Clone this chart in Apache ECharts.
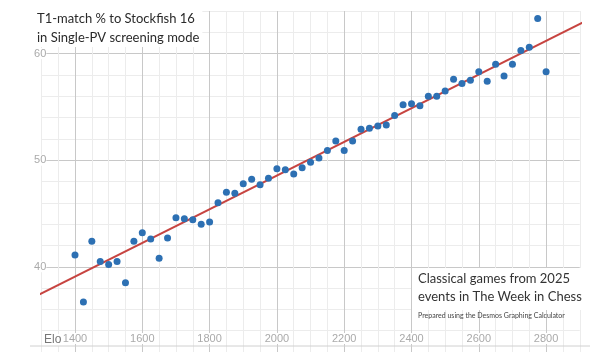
<!DOCTYPE html>
<html>
<head>
<meta charset="utf-8">
<script src="https://cdn.jsdelivr.net/npm/echarts@6/dist/echarts.min.js"></script>
<style>
    html, body { margin: 0; padding: 0; background: #fff; }
    #chart { width: 607px; height: 352px; }
</style>
</head>
<body>
<div id="chart"></div>
<script>
    // Elo bins (25 Elo wide) and T1-match percentage per bin
    const eloBins = [
        1400, 1425, 1450, 1475, 1500, 1525, 1550, 1575, 1600, 1625,
        1650, 1675, 1700, 1725, 1750, 1775, 1800, 1825, 1850, 1875,
        1900, 1925, 1950, 1975, 2000, 2025, 2050, 2075, 2100, 2125,
        2150, 2175, 2200, 2225, 2250, 2275, 2300, 2325, 2350, 2375,
        2400, 2425, 2450, 2475, 2500, 2525, 2550, 2575, 2600, 2625,
        2650, 2675, 2700, 2725, 2750, 2775, 2800
    ];
    const matchPct = [
        41.1, 36.7, 42.4, 40.5, 40.2, 40.5, 38.5, 42.4, 43.2, 42.6,
        40.8, 42.7, 44.6, 44.5, 44.4, 44.0, 44.2, 46.0, 47.0, 46.9,
        47.8, 48.2, 47.7, 48.3, 49.2, 49.1, 48.7, 49.3, 49.8, 50.2,
        50.9, 51.8, 50.9, 51.8, 52.9, 53.0, 53.2, 53.3, 54.2, 55.2,
        55.3, 55.1, 56.0, 56.0, 56.5, 57.6, 57.2, 57.5, 58.3, 57.4,
        59.0, 57.9, 59.0, 60.3, 60.6, 63.3, 58.3
    ];
    const trendElo = [1275, 2920];
    const trendPct = [37.1, 63.1];

    const xTickLabels = [1400, 1600, 1800, 2000, 2200, 2400, 2600, 2800];
    const yTickLabels = [40, 50, 60];

    const minorGrid = "#ececec";
    const majorGrid = "#c8c8c8";
    const textFont = "Lato, 'Open Sans', sans-serif";

    let chart = echarts.init(document.getElementById("chart"));

    let option = {
        backgroundColor: "#fff",
        animation: false,
        grid: {
            left: 41.35,
            right: 27.25,
            top: 11,
            height: 344
        },
        xAxis: {
            type: "value",
            min: 1300,
            max: 2900,
            interval: 50,
            axisLine: { show: false },
            axisTick: { show: false },
            axisLabel: {
                inside: true,
                margin: 8,
                fontSize: 11,
                color: "#aaa",
                fontFamily: "Arial, sans-serif",
                backgroundColor: "#fff",
                formatter: (v) => xTickLabels.indexOf(v) >= 0 ? String(v) : ""
            },
            splitLine: {
                show: true,
                lineStyle: { color: [minorGrid, minorGrid, majorGrid, minorGrid], width: 1 }
            }
        },
        yAxis: {
            type: "value",
            min: 32,
            max: 64,
            interval: 2,
            axisLine: { show: false },
            axisTick: { show: false },
            axisLabel: {
                margin: -5,
                fontSize: 11,
                color: "#aaa",
                fontFamily: "Arial, sans-serif",
                backgroundColor: "#fff",
                formatter: (v) => yTickLabels.indexOf(v) >= 0 ? String(v) : ""
            },
            splitLine: {
                show: true,
                lineStyle: { color: [minorGrid, minorGrid, minorGrid, minorGrid, majorGrid], width: 1 }
            }
        },
        series: [
            {
                type: "line",
                data: trendElo.map((e, i) => [e, trendPct[i]]),
                showSymbol: false,
                lineStyle: { color: "#c74440", width: 2 },
                z: 2
            },
            {
                type: "scatter",
                data: eloBins.map((e, i) => [e, matchPct[i]]),
                symbolSize: 7,
                itemStyle: { color: "#2d70b3", opacity: 1 },
                z: 3
            }
        ],
        graphic: [
            {
                type: "text",
                left: 34,
                top: 9,
                z: 10,
                style: {
                    text: "T1-match % to Stockfish 16\nin Single-PV screening mode",
                    font: "13px " + textFont,
                    lineHeight: 19,
                    fill: "#2a2a2a",
                    backgroundColor: "#fff",
                    padding: [0, 3, 0, 3]
                }
            },
            {
                type: "text",
                left: 412,
                top: 268,
                z: 10,
                style: {
                    text: "Classical games from 2025\nevents in The Week in Chess",
                    font: "13px " + textFont,
                    lineHeight: 18,
                    fill: "#333",
                    backgroundColor: "#fff",
                    padding: [2, 6, 4, 6]
                }
            },
            {
                type: "text",
                left: 418,
                top: 312,
                z: 10,
                style: {
                    text: "Prepared using the Desmos Graphing Calculator",
                    font: "7px " + textFont,
                    fill: "#444"
                }
            },
            {
                type: "text",
                left: 42,
                top: 334,
                z: 10,
                style: {
                    text: "Elo",
                    font: "12px Arial, sans-serif",
                    fill: "#777",
                    backgroundColor: "#fff",
                    padding: [0, 2, 0, 2]
                }
            },
            {
                type: "line",
                z: 10,
                shape: { x1: 30, y1: 346, x2: 590, y2: 346 },
                style: { stroke: "#d0d0d0", lineWidth: 1 }
            }
        ]
    };

    chart.setOption(option);
</script>
</body>
</html>
